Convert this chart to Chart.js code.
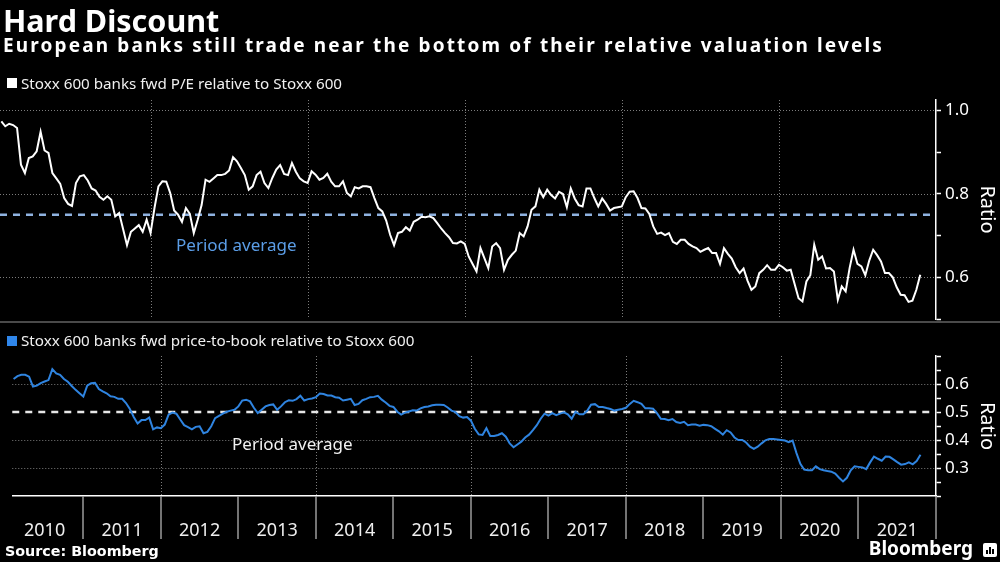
<!DOCTYPE html>
<html><head><meta charset="utf-8">
<script src="https://cdn.jsdelivr.net/npm/chart.js@4.4.1/dist/chart.umd.min.js"></script>
<style>
html,body{margin:0;padding:0;background:#000;width:1000px;height:562px;overflow:hidden;}
body{position:relative;font-family:"Noto Sans","Open Sans",sans-serif;color:#fff;}
canvas{position:absolute;left:0;top:0;}
.t{position:absolute;white-space:nowrap;line-height:1;z-index:2;}
#title{left:3px;top:5px;font-size:30.5px;font-weight:700;}
#subtitle{left:3px;top:35.8px;font-size:19px;font-weight:700;letter-spacing:2.15px;}
.legend{left:21px;font-size:15.2px;color:#f0f0f0;}
.sw{position:absolute;width:10px;height:10px;z-index:2;}
#divider{position:absolute;left:0;top:321px;width:1000px;height:2px;background:#4a4a4a;z-index:1;}
#source{left:5px;top:544px;font-size:14.3px;font-weight:700;font-family:"DejaVu Sans","Noto Sans",sans-serif;}
#brand{right:27px;top:539px;font-size:19px;font-weight:700;}
#icon{position:absolute;left:983px;top:543px;width:14px;height:14px;background:#fff;border-radius:2px;z-index:2;}
#icon i{position:absolute;bottom:3px;width:2px;background:#000;}
</style></head>
<body>
<canvas id="topChart" width="1000" height="562"></canvas>
<canvas id="bottomChart" width="1000" height="562"></canvas>
<div class="t" id="title">Hard Discount</div>
<div class="t" id="subtitle">European banks still trade near the bottom of their relative valuation levels</div>
<div class="sw" style="left:7px;top:78px;background:#ffffff"></div>
<div class="t legend" style="top:76px">Stoxx 600 banks fwd P/E relative to Stoxx 600</div>
<div id="divider"></div>
<div class="sw" style="left:7px;top:336px;background:#2f86ea"></div>
<div class="t legend" style="top:333px">Stoxx 600 banks fwd price-to-book relative to Stoxx 600</div>
<div class="t" id="source">Source: Bloomberg</div>
<div class="t" id="brand">Bloomberg</div>
<div id="icon"><i style="left:3px;height:4px"></i><i style="left:6px;height:7px"></i><i style="left:9px;height:5px"></i></div>
<script>
// ---- data ----
const startYear = 2010.10;   // first observation (decimal year)
const stepYears = 0.05;      // sampling interval (decimal year)
const peRelative = [
0.974,0.962,0.968,0.965,0.958,0.870,0.850,0.886,0.890,0.902,
0.949,0.904,0.898,0.850,0.837,0.824,0.790,0.776,0.771,0.826,
0.842,0.845,0.832,0.813,0.808,0.793,0.786,0.794,0.786,0.746,
0.754,0.716,0.677,0.709,0.717,0.725,0.709,0.738,0.706,0.766,
0.818,0.830,0.829,0.802,0.760,0.750,0.733,0.766,0.752,0.706,
0.738,0.773,0.834,0.829,0.837,0.845,0.845,0.848,0.856,0.888,
0.878,0.862,0.845,0.810,0.818,0.845,0.853,0.826,0.814,0.838,
0.858,0.869,0.848,0.845,0.874,0.853,0.837,0.830,0.826,0.854,
0.846,0.834,
0.838,0.848,0.829,0.818,0.818,0.830,0.802,0.794,
0.816,0.813,0.818,0.818,0.816,0.790,0.766,0.758,0.736,0.702,
0.677,0.706,0.709,0.720,0.712,0.733,0.738,0.745,0.744,0.746,
0.742,0.730,0.717,0.706,0.696,0.682,0.681,0.686,0.680,0.650,
0.632,0.614,0.670,0.646,0.622,0.674,0.682,0.670,0.618,0.642,
0.654,0.664,0.706,0.698,0.722,0.762,0.770,0.810,0.792,0.810,
0.797,0.789,0.805,0.800,0.768,0.813,0.789,0.773,0.770,0.813,
0.813,0.790,0.770,0.789,0.776,0.760,0.766,0.768,0.770,0.792,0.805,
0.806,0.790,0.766,0.765,0.752,0.722,0.704,0.707,0.701,
0.706,0.685,0.680,0.690,0.690,0.680,0.674,0.670,0.661,0.666,
0.670,0.658,0.658,0.632,0.670,0.656,0.645,0.624,0.610,0.621,
0.592,0.570,0.578,0.610,0.618,0.629,0.618,0.618,0.630,0.624,
0.616,0.618,0.584,0.550,0.542,0.590,0.605,0.678,0.642,0.650,
0.621,0.622,0.614,0.546,0.578,0.566,0.622,0.666,0.632,0.626,
0.605,0.640,0.666,0.653,0.638,0.610,0.610,0.600,0.576,0.558,
0.557,0.541,0.544,0.570,0.606
];
const pbRelative = [
0.618,0.628,0.633,0.633,0.626,0.591,0.594,0.603,0.609,0.614,
0.653,0.638,0.633,0.618,0.608,0.593,0.579,0.567,0.555,0.594,
0.603,0.604,0.582,0.574,0.567,0.556,0.554,0.547,0.547,0.532,
0.511,0.482,0.459,0.471,0.471,0.480,0.438,0.445,0.442,0.455,
0.491,0.498,0.494,0.473,0.453,0.446,0.438,0.447,0.449,0.424,
0.429,0.449,0.478,0.486,0.494,0.501,0.505,0.508,0.520,0.541,
0.544,0.538,0.515,0.496,0.508,0.520,0.525,0.527,0.508,0.520,
0.535,0.542,0.540,0.546,0.558,0.541,0.546,0.548,0.553,0.566,
0.564,0.559,
0.559,0.553,0.551,0.541,0.544,0.547,0.525,0.529,
0.542,0.547,0.553,0.554,0.558,0.544,0.534,0.522,0.518,0.501,
0.491,0.498,0.502,0.506,0.505,0.513,0.518,0.520,0.524,0.526,
0.526,0.525,0.516,0.505,0.500,0.485,0.480,0.482,0.469,0.440,
0.420,0.418,0.442,0.414,0.414,0.418,0.424,0.412,0.388,0.374,
0.384,0.394,0.409,0.419,0.435,0.453,0.476,0.494,0.487,0.496,
0.489,0.494,0.499,0.492,0.476,0.501,0.492,0.492,0.504,0.526,
0.528,0.518,0.518,0.514,0.511,0.505,0.508,0.511,0.515,0.529,0.540,
0.535,0.529,0.513,0.513,0.512,0.496,0.476,0.475,0.471,
0.475,0.464,0.461,0.465,0.453,0.455,0.455,0.451,0.454,0.453,
0.449,0.440,0.431,0.419,0.435,0.427,0.409,0.400,0.400,0.391,
0.376,0.368,0.376,0.388,0.399,0.404,0.404,0.402,0.400,0.398,
0.392,0.398,0.353,0.315,0.294,0.292,0.292,0.306,0.296,0.292,
0.289,0.287,0.280,0.265,0.252,0.265,0.292,0.306,0.304,0.302,
0.296,0.320,0.341,0.333,0.326,0.341,0.340,0.331,0.321,0.312,
0.314,0.320,0.313,0.325,0.347
];
const peAverage = 0.75;
const pbAverage = 0.5;
const yearLabels = ['2010','2011','2012','2013','2014','2015','2016','2017','2018','2019','2020','2021'];
const gridYears = [2012, 2014, 2016, 2018, 2020];
const separatorYears = [2011, 2012, 2013, 2014, 2015, 2016, 2017, 2018, 2019, 2020, 2021, 2022];
const peTicks = [0.5, 0.6, 0.7, 0.8, 0.9, 1.0];
const peTickLabels = [0.6, 0.8, 1.0];
const pbTicks = [0.2, 0.25, 0.3, 0.35, 0.4, 0.45, 0.5, 0.55, 0.6, 0.65, 0.7];
const pbTickLabels = [0.3, 0.4, 0.5, 0.6];

// ---- chart ----
const FONT = '"Noto Sans", "Open Sans", sans-serif';
const X_MIN = 2010.083, X_MAX = 2022.0;
const toPoints = arr => arr.map((v, i) => ({x: startYear + i * stepYears, y: v}));

const panelDecor = {
  id: 'panelDecor',
  beforeDatasetsDraw(chart, args, o) {
    const {ctx, chartArea: a} = chart;
    const xs = chart.scales.x, ys = chart.scales.y;
    ctx.save();
    ctx.lineWidth = 1;
    ctx.strokeStyle = '#7c7c7c';
    ctx.setLineDash([1, 2]);
    ctx.beginPath();
    o.gridValues.forEach(v => {
      const py = Math.round(ys.getPixelForValue(v)) + 0.5;
      ctx.moveTo(a.left, py); ctx.lineTo(a.right, py);
    });
    gridYears.forEach(yr => {
      const px = Math.round(xs.getPixelForValue(yr)) + 0.5;
      ctx.moveTo(px, a.top); ctx.lineTo(px, a.bottom);
    });
    ctx.stroke();
    ctx.setLineDash([7, 6]);
    ctx.lineWidth = 2.5;
    ctx.strokeStyle = o.avgColor;
    const ay = ys.getPixelForValue(o.avg);
    ctx.beginPath(); ctx.moveTo(a.left, ay); ctx.lineTo(a.right, ay); ctx.stroke();
    ctx.setLineDash([]);
    ctx.fillStyle = o.textColor;
    ctx.font = '17px ' + FONT;
    ctx.textBaseline = 'middle';
    ctx.textAlign = 'left';
    ctx.fillText('Period average', xs.getPixelForValue(o.textAt[0]), ys.getPixelForValue(o.textAt[1]));
    if (o.separators) {
      ctx.strokeStyle = '#9a9a9a';
      ctx.lineWidth = 1.5;
      ctx.beginPath();
      separatorYears.forEach(yr => {
        const px = Math.round(xs.getPixelForValue(yr));
        ctx.moveTo(px, a.bottom); ctx.lineTo(px, a.bottom + 43);
      });
      ctx.stroke();
    }
    ctx.restore();
  }
};

function yScale(ticksArr, labelsArr, min, max) {
  return {
    type: 'linear', position: 'right', min: min, max: max,
    afterFit: s => { s.width = 64; },
    afterBuildTicks: s => { s.ticks = ticksArr.map(v => ({value: v})); },
    ticks: {
      autoSkip: false, color: '#ffffff', padding: 4,
      font: {family: FONT, size: 17},
      callback: v => labelsArr.some(l => Math.abs(l - v) < 1e-6) ? v.toFixed(1) : ''
    },
    grid: {display: true, drawOnChartArea: false, drawTicks: true, tickLength: 5, tickColor: '#ffffff', tickWidth: 1.5},
    border: {display: true, color: '#ffffff', width: 1.5},
    title: {display: true, text: 'Ratio', color: '#ffffff', font: {family: FONT, size: 20}, padding: {top: 1, bottom: 0}}
  };
}

new Chart(document.getElementById('topChart'), {
  type: 'line',
  data: {datasets: [{
    data: toPoints(peRelative), borderColor: '#ffffff', borderWidth: 2,
    pointRadius: 0, tension: 0, fill: false
  }]},
  options: {
    responsive: false, animation: false, events: [],
    layout: {padding: {left: 0, right: 0, top: 100, bottom: 243}},
    plugins: {
      legend: {display: false}, tooltip: {enabled: false},
      panelDecor: {gridValues: peTickLabels, avg: peAverage, avgColor: '#8fb2e0', textColor: '#5b9de6', textAt: [2012.324, 0.675], separators: false}
    },
    scales: {
      x: {type: 'linear', min: X_MIN, max: X_MAX, display: false},
      y: yScale(peTicks, peTickLabels, 0.5, 1.025)
    }
  },
  plugins: [panelDecor]
});

new Chart(document.getElementById('bottomChart'), {
  type: 'line',
  data: {datasets: [{
    data: toPoints(pbRelative), borderColor: '#2f84e0', borderWidth: 2,
    pointRadius: 0, tension: 0, fill: false
  }]},
  options: {
    responsive: false, animation: false, events: [],
    layout: {padding: {left: 0, right: 0, top: 356, bottom: 0}},
    plugins: {
      legend: {display: false}, tooltip: {enabled: false},
      panelDecor: {gridValues: [0.6, 0.4, 0.3], avg: pbAverage, avgColor: '#e6e6e6', textColor: '#f2f2f2', textAt: [2012.918, 0.382], separators: true}
    },
    scales: {
      x: {
        type: 'linear', min: X_MIN, max: X_MAX, position: 'bottom',
        afterFit: s => { s.height = 66; },
        afterBuildTicks: s => { s.ticks = yearLabels.map(l => ({value: Number(l) + 0.5})); },
        ticks: {
          autoSkip: false, maxRotation: 0, minRotation: 0, color: '#eeeeee', padding: 24,
          font: {family: FONT, size: 18},
          callback: v => String(Math.floor(v))
        },
        grid: {display: true, drawOnChartArea: false, drawTicks: false},
        border: {display: true, color: '#ffffff', width: 1.5}
      },
      y: yScale(pbTicks, pbTickLabels, 0.2, 0.7)
    }
  },
  plugins: [panelDecor]
});
</script>
</body></html>
